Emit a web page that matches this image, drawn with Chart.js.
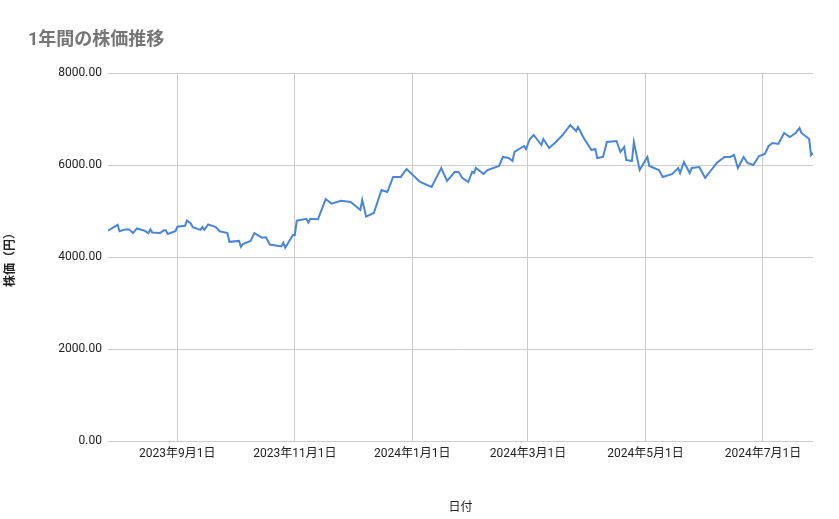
<!DOCTYPE html>
<html><head><meta charset="utf-8">
<script src="https://cdn.jsdelivr.net/npm/chart.js@4"></script>
<style>html,body{margin:0;padding:0;background:#fff}#w{width:839px;height:519px;position:relative}</style>
</head><body><div id="w"><canvas id="c"></canvas></div>
<script>
const title = "1年間の株価推移";
const xTitle = "日付";
const yTitle = "株価（円）";
// days since 2023-07-27
const days = [0,3,5,6,9,11,13,15,19,21,22,23,27,29,30,31,35,36,40,41,43,44,48,49,50,52,56,58,62,63,68,69,70,74,76,80,82,84,90,91,92,96,97,98,103,104,105,109,113,116,121,126,131,132,134,138,142,145,147,148,152,155,162,168,173,176,180,182,184,187,189,190,191,195,197,203,205,208,210,211,216,217,219,221,225,226,229,232,236,240,243,244,247,251,253,254,257,259,264,266,268,269,272,273,276,280,281,286,288,293,296,297,299,302,303,307,310,314,316,320,323,325,327,330,332,335,338,341,343,345,348,351,354,357,359,360,364,365,366];
const prices = [4570,4650,4700,4560,4600,4600,4520,4620,4570,4520,4600,4530,4520,4580,4580,4500,4560,4660,4680,4790,4730,4650,4590,4650,4590,4710,4650,4560,4520,4330,4350,4220,4280,4350,4520,4420,4430,4270,4230,4310,4200,4480,4480,4790,4830,4750,4830,4820,5260,5160,5220,5196,5022,5240,4877,4956,5457,5413,5630,5740,5740,5913,5630,5522,5935,5652,5848,5848,5718,5630,5848,5826,5935,5805,5891,5978,6174,6152,6087,6283,6413,6348,6565,6652,6435,6565,6370,6478,6652,6870,6739,6826,6587,6326,6348,6152,6174,6500,6522,6283,6391,6109,6087,6500,5891,6174,5978,5891,5740,5805,5935,5826,6065,5826,5935,5956,5718,5935,6043,6174,6174,6217,5935,6174,6043,6000,6196,6239,6413,6478,6457,6696,6609,6696,6804,6696,6565,6217,6261];
const tickDays = [36,97,158,218,279,340];
const tickLabels = ["2023年9月1日","2023年11月1日","2024年1月1日","2024年3月1日","2024年5月1日","2024年7月1日"];
const yTicks = [0,2000,4000,6000,8000];
const F = "'Roboto','Noto Sans CJK JP',sans-serif";
const titlePlugin = {id:'tp',afterDraw(ch){const c=ch.ctx;c.save();c.font="bold 18px "+F;c.fillStyle="#757575";c.textBaseline="alphabetic";c.fillText(title,28,45);c.restore();}};
new Chart(document.getElementById('c'),{
 type:'line',
 data:{datasets:[{data:days.map((d,i)=>({x:d,y:prices[i]})),borderColor:'#4a86d8',borderWidth:2,pointRadius:0,tension:0}]},
 options:{responsive:true,maintainAspectRatio:false,animation:false,
  layout:{padding:{top:73,right:26,left:0,bottom:0}},
  plugins:{legend:{display:false},tooltip:{enabled:false}},
  scales:{
   x:{type:'linear',min:0,max:366,
    afterBuildTicks(s){s.ticks=tickDays.map(v=>({value:v}));},
    afterFit(s){s.height=78;},
    ticks:{autoSkip:false,maxRotation:0,color:'#222',font:{family:F,size:12},padding:6,callback(v){const i=tickDays.indexOf(v);return i>=0?tickLabels[i]:'';}},
    grid:{color:'#cccccc',drawTicks:false},border:{display:false},
    title:{display:true,text:xTitle,color:'#222',font:{family:F,size:12},padding:{top:22}}},
   y:{min:0,max:8000,
    afterBuildTicks(s){s.ticks=yTicks.map(v=>({value:v}));},
    afterFit(s){s.width=108;},
    ticks:{color:'#222',font:{family:F,size:12},padding:6,callback:v=>v.toFixed(2)},
    grid:{color:'#cccccc',drawTicks:false},border:{display:false},
    title:{display:true,text:yTitle,color:'#222',font:{family:F,size:12,weight:'bold'},padding:{bottom:14}}}
  }},
 plugins:[titlePlugin]
});
</script></body></html>
